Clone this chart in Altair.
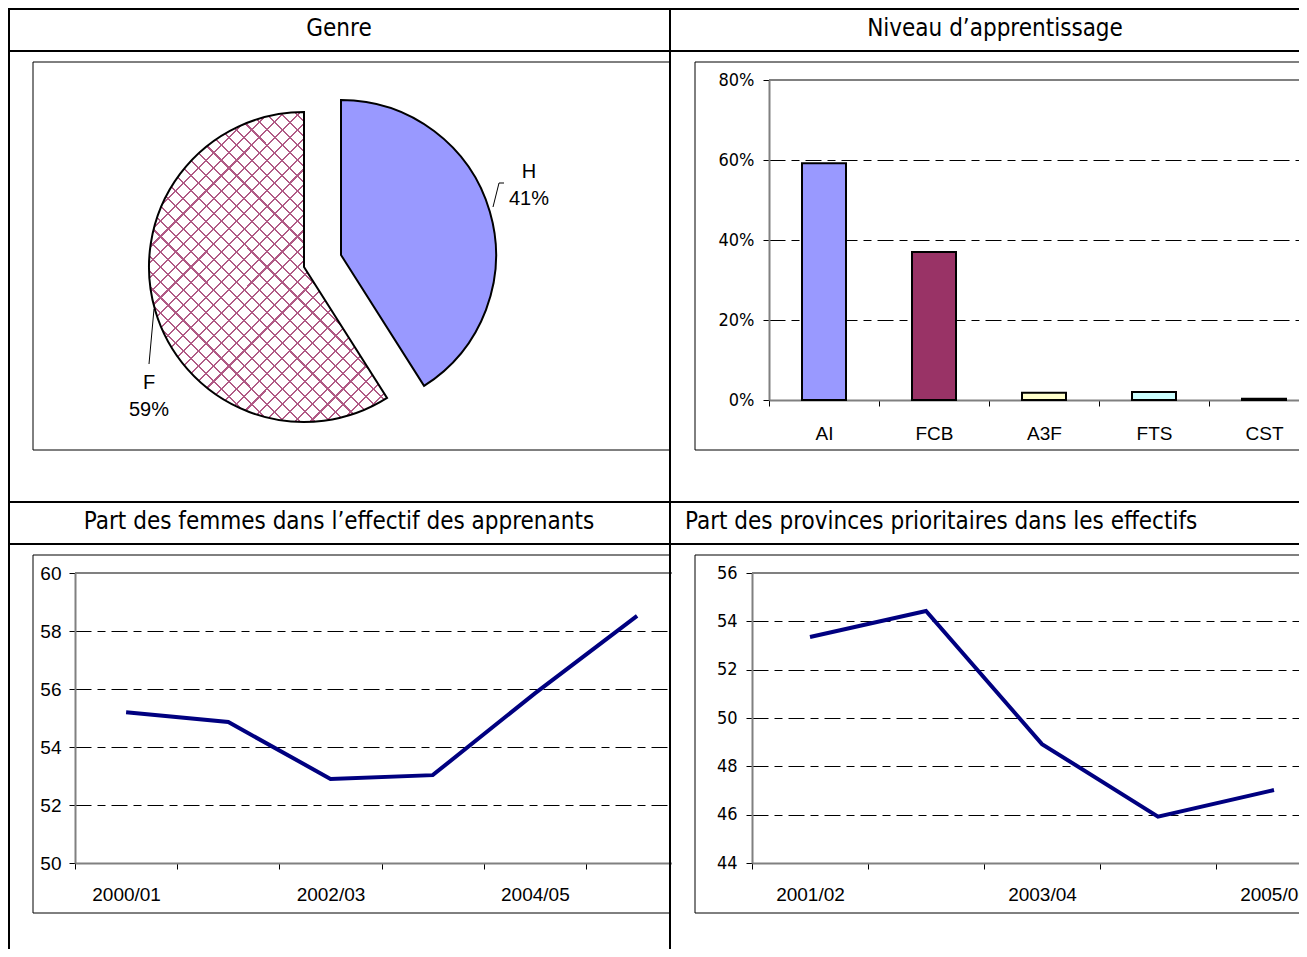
import json
import math
import altair as alt
import pandas as pd

# ---------------- data ----------------
main_title = "Répartition de l’effectif des apprenants"
panel_titles = [
    "Genre",
    "Niveau d’apprentissage",
    "Part des femmes dans l’effectif des apprenants",
    "Part des provinces prioritaires dans les effectifs",
]

gender = ["H", "F"]
gender_share = [41, 59]

levels = ["AI", "FCB", "A3F", "FTS", "CST"]
level_share = [59.2, 37.0, 1.8, 2.0, 0.3]
level_ticks = [0, 20, 40, 60, 80]

women_years = ["2000/01", "2001/02", "2002/03", "2003/04", "2004/05", "2005/06"]
women_share = [55.2, 54.86, 52.9, 53.03, 55.85, 58.52]
women_ticks = [50, 52, 54, 56, 58, 60]
women_labels = ["2000/01", "2002/03", "2004/05"]

prov_years = ["2001/02", "2002/03", "2003/04", "2004/05", "2005/06"]
prov_share = [53.35, 54.43, 48.92, 45.92, 47.02]
prov_ticks = [44, 46, 48, 50, 52, 54, 56]
prov_labels = ["2001/02", "2003/04", "2005/06"]

# ---------------- style ----------------
W, H = 1291, 941
M = 8


def px(v):
    return v - M


NARROW = "Liberation Sans Narrow, Arial Narrow, DejaVu Sans Condensed, sans-serif"
ARIAL = "Liberation Sans, Arial, Helvetica, sans-serif"
DASH = [16, 6, 8, 6]
GREY = "#808080"
NAVY = "#000080"
bar_colors = ["#9999FF", "#993366", "#FFFFCC", "#CCFFFF", "#660066"]
one = alt.Data(values=[{"k": 0}])


def rule(x1, y1, x2, y2, color="black", width=2):
    return alt.Chart(one).mark_rule(color=color, strokeWidth=width).encode(
        x=alt.value(px(x1)), y=alt.value(px(y1)),
        x2=alt.value(px(x2)), y2=alt.value(px(y2)))


def frame(x1, y1, x2, y2):
    return alt.Chart(one).mark_rect(filled=False, stroke="black", strokeWidth=1).encode(
        x=alt.value(px(x1)), y=alt.value(px(y1)),
        x2=alt.value(px(x2)), y2=alt.value(px(y2)))


def mask(x1, y1, x2, y2):
    return alt.Chart(one).mark_rect(color="white", strokeWidth=0).encode(
        x=alt.value(px(x1)), y=alt.value(px(y1)),
        x2=alt.value(px(x2)), y2=alt.value(px(y2)))


def text(t, x, y, size, font=NARROW, align="center", baseline="middle"):
    return alt.Chart(one).mark_text(font=font, fontSize=size, align=align,
                                    baseline=baseline, color="black").encode(
        x=alt.value(px(x)), y=alt.value(px(y)), text=alt.value(t))


def stripes(n, frac, bg, fg):
    stops = []
    for i in range(n):
        a = i / n
        b = (i + 1 - frac) / n
        c = (i + 1) / n
        stops += [{"offset": a, "color": bg}, {"offset": b, "color": bg},
                  {"offset": b, "color": fg}, {"offset": c, "color": fg}]
    return stops


HATCH = "#b05a85"
grad1 = {"gradient": "linear", "x1": 0, "y1": 0, "x2": 0.855, "y2": 1.112,
         "stops": stripes(36, 0.14, "#ffffff", HATCH)}
grad2 = {"gradient": "linear", "x1": 0, "y1": 1, "x2": 0.855, "y2": -0.112,
         "stops": stripes(36, 0.14, "rgba(255,255,255,0)", HATCH)}


def yaxis(axis_x, values, font, size, pad, top, bottom, fmt=None):
    kw = dict(orient="left", offset=-px(axis_x), values=values, title=None,
              labelFont=font, labelFontSize=size, labelColor="black", labelPadding=pad,
              tickSize=6, tickColor="black", tickWidth=1,
              domainColor=GREY, domainWidth=2,
              grid=True, gridColor="black", gridDash=DASH, gridWidth=1,
              gridOpacity={"condition": {"test": f"datum.value === {top} || datum.value === {bottom}",
                                         "value": 0}, "value": 1},
              zindex=0)
    if fmt:
        kw["labelExpr"] = fmt
    return alt.Axis(**kw)


def xaxis(axis_y, pad, shown=None):
    kw = dict(orient="bottom", offset=px(axis_y) - H, title=None, labelAngle=0,
              labelFont=ARIAL, labelFontSize=19, labelColor="black", labelPadding=pad,
              tickSize=6, tickColor="black", tickWidth=1, tickBand="extent",
              domainColor=GREY, domainWidth=2, grid=False, zindex=0)
    if shown:
        kw["labelExpr"] = f"indexof({json.dumps(shown)}, datum.value) >= 0 ? datum.label : ''"
    return alt.Axis(**kw)


# ---------------- pie ----------------
pie_df = pd.DataFrame({"g": gender, "s": gender_share})
pie_base = alt.Chart(pie_df).transform_window(end="sum(s)").transform_calculate(
    start="datum.end - datum.s")
theta_scale = alt.Scale(domain=[0, 100], range=[0, 2 * math.pi])


def pie_slice(g, cx, cy, **mk):
    return pie_base.transform_filter(alt.datum.g == g).mark_arc(outerRadius=155, **mk).encode(
        theta=alt.Theta("start:Q", scale=theta_scale), theta2="end:Q",
        x=alt.value(px(cx)), y=alt.value(px(cy)))


def pie_label(g, x, ytop):
    return pie_base.transform_filter(alt.datum.g == g).transform_calculate(
        lbl="datum.g + '\\n' + datum.s + '%'").mark_text(
        font=ARIAL, fontSize=20, lineBreak="\n", lineHeight=27, baseline="top",
        align="center", color="black").encode(
        x=alt.value(px(x)), y=alt.value(px(ytop)), text="lbl:N")


f_base = pie_slice("F", 304, 267, fill=grad1, strokeWidth=0)
f_top = pie_slice("F", 304, 267, fill=grad2, stroke="black", strokeWidth=2)
h_slice = pie_slice("H", 341, 255, fill="#9999FF", stroke="black", strokeWidth=2)
h_lab = pie_label("H", 529, 161.5)
f_lab = pie_label("F", 149, 372.5)

# ---------------- bars ----------------
bar_df = pd.DataFrame({"lvl": levels, "v": level_share})
bars = alt.Chart(bar_df).mark_bar(width={"band": 0.4}, stroke="black", strokeWidth=2).encode(
    x=alt.X("lvl:N", sort=levels,
            scale=alt.Scale(type="band", range=[px(769), px(1319)], paddingInner=0, paddingOuter=0),
            axis=xaxis(400, 18)),
    y=alt.Y("v:Q", scale=alt.Scale(domain=[0, 80], range=[px(400), px(80)], nice=False),
            axis=yaxis(769, level_ticks, NARROW, 18, 9, 80, 0, "datum.value + '%'")),
    color=alt.Color("lvl:N", scale=alt.Scale(domain=levels, range=bar_colors), legend=None),
)

# ---------------- women line ----------------
w_df = pd.DataFrame({"yr": women_years, "v": women_share})
line1 = alt.Chart(w_df).mark_line(color=NAVY, strokeWidth=4).encode(
    x=alt.X("yr:N", sort=women_years, bandPosition=0.5,
            scale=alt.Scale(type="band", range=[px(75), px(688.2)], paddingInner=0, paddingOuter=0),
            axis=xaxis(863, 16, women_labels)),
    y=alt.Y("v:Q", scale=alt.Scale(domain=[50, 60], range=[px(863), px(573)], nice=False),
            axis=yaxis(75, women_ticks, ARIAL, 19, 8, 60, 50)),
)

# ---------------- provinces line ----------------
p_df = pd.DataFrame({"yr": prov_years, "v": prov_share})
line2 = alt.Chart(p_df).mark_line(color=NAVY, strokeWidth=4).encode(
    x=alt.X("yr:N", sort=prov_years, bandPosition=0.5,
            scale=alt.Scale(type="band", range=[px(752), px(1332)], paddingInner=0, paddingOuter=0),
            axis=xaxis(863, 16, prov_labels)),
    y=alt.Y("v:Q", scale=alt.Scale(domain=[44, 56], range=[px(863), px(573)], nice=False),
            axis=yaxis(752, prov_ticks, NARROW, 18, 9, 56, 44)),
)

layers = [
    # chart frames
    frame(33, 62, 670, 450), frame(695, 62, 1325, 450),
    frame(33, 555, 670, 913), frame(695, 555, 1325, 913),
    # plot-area top borders
    rule(769, 80, 1325, 80, GREY, 2), rule(75, 573, 688, 573, GREY, 2),
    rule(752, 573, 1325, 573, GREY, 2),
    # charts
    f_base, f_top, h_slice,
    rule(504, 183, 499, 183, "black", 1), rule(499, 183, 493, 207, "black", 1),
    rule(154, 309, 149, 364, "black", 1),
    h_lab, f_lab,
    bars, line1, line2,
    # hide overflow between columns
    mask(672, 553, 693, 916),
    # table grid
    rule(8, 9, 1325, 9), rule(8, 51, 1325, 51), rule(8, 502, 1325, 502), rule(8, 544, 1325, 544),
    rule(9, 9, 9, 965), rule(670, 9, 670, 965),
    # texts
    text(main_title, 22, -3, 20, ARIAL, "left", "alphabetic"),
    text(panel_titles[0], 339, 29, 24),
    text(panel_titles[1], 995, 29, 24),
    text(panel_titles[2], 339, 522, 24),
    text(panel_titles[3], 685, 522, 24, NARROW, "left"),
]

chart = alt.layer(*layers).resolve_scale(x="independent", y="independent").resolve_axis(
    x="independent", y="independent").properties(
    width=W, height=H, autosize=alt.AutoSizeParams(type="none"), padding=0
).configure_view(stroke="transparent")

chart.save("out.html", embed_options={"renderer": "svg", "actions": False})
